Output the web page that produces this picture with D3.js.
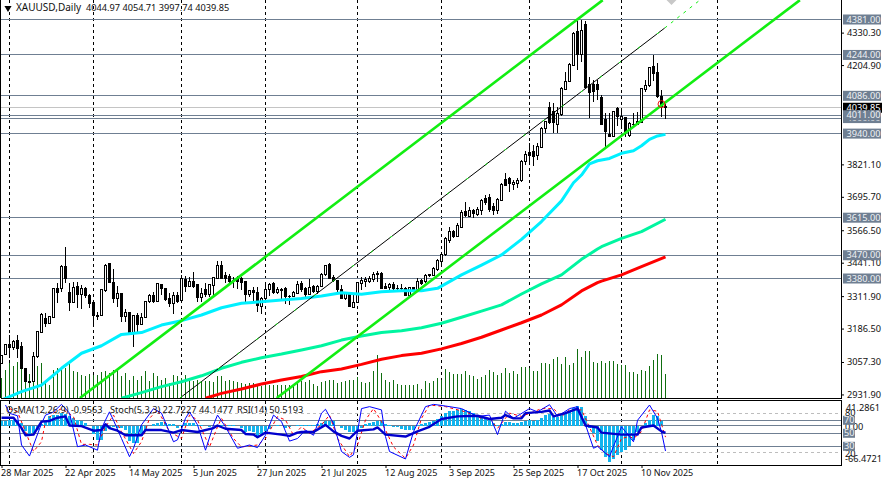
<!DOCTYPE html>
<html>
<head>
<meta charset="utf-8">
<script src="https://cdn.jsdelivr.net/npm/d3@7"></script>
<style>
  html, body { margin: 0; background: #fff; }
  svg { display: block; }
  text { font-family: "Noto Sans", "Liberation Sans", sans-serif; font-size: 9.2px; fill: #111; }
  .tick line { stroke: #000; }
</style>
</head>
<body>
<div id="chart"></div>
<script>
// ohlc per bar (bar 166 is the quoted last bar)
const opens = [
  3052,3088,3123,3114,3140,3117,3033,2981,2981,3078, 3171,3226,3207,3230,3342,3342,3426,3327,3287,3351,
  3320,3342,3316,3289,3236,3236,3333,3439,3365,3302, 3323,3233,3249,3172,3236,3203,3230,3290,3316,3290,
  3355,3342,3302,3284,3316,3294,3377,3351,3370,3355, 3307,3338,3320,3352,3381,3432,3390,3387,3374,3381,
  3381,3368,3319,3332,3325,3271,3301,3338,3361,3325, 3336,3340,3309,3310,3323,3359,3342,3320,3348,3329,
  3348,3394,3436,3384,3372,3338,3303,3325,3269,3287, 3361,3368,3368,3377,3394,3399,3348,3344,3355,3343,
  3342,3342,3315,3346,3339,3374,3368,3391,3393,3413, 3445,3473,3526,3561,3544,3578,3638,3621,3642,3629,
  3642,3690,3694,3660,3642,3683,3763,3765,3745,3748, 3757,3832,3866,3870,3855,3886,3958,4042,4025,3977,
  4012,4111,4141,4205,4334,4244,4360,4128,4128,4128, 4080,3993,3937,3928,4038,3993,4002,3931,3975,3977,
  3984,4112,4124,4199,4176,4085,4044.97
];
const highs = [
  3086,3127,3162,3142,3162,3136,3036,2985,3097,3177, 3245,3245,3235,3345,3361,3432,3503,3361,3368,3368,
  3355,3346,3320,3290,3252,3338,3435,3440,3417,3351, 3325,3262,3252,3239,3245,3245,3294,3319,3329,3364,
  3357,3345,3323,3329,3329,3394,3390,3387,3406,3357, 3342,3361,3359,3387,3449,3449,3406,3397,3384,3390,
  3387,3370,3336,3346,3346,3310,3368,3361,3368,3346, 3345,3346,3316,3333,3372,3372,3348,3377,3355,3355,
  3403,3432,3439,3393,3374,3355,3329,3329,3323,3368, 3387,3387,3390,3404,3409,3404,3364,3364,3368,3355,
  3359,3348,3348,3348,3381,3377,3396,3398,3426,3455, 3477,3539,3578,3567,3593,3645,3677,3658,3647,3658,
  3686,3703,3705,3670,3690,3748,3789,3774,3761,3767, 3838,3874,3902,3896,3902,3964,3990,4061,4057,4044,
  4121,4179,4212,4334,4377,4379,4377,4158,4147,4147, 4089,4018,4018,4027,4042,4031,4006,3986,4018,4025,
  4118,4147,4199,4244,4212,4109,4054.71
];
const lows = [
  3050,3084,3071,3104,3071,3033,2979,2975,2979,3071, 3168,3194,3204,3228,3284,3329,3364,3254,3284,3265,
  3262,3303,3265,3196,3220,3235,3329,3361,3284,3271, 3213,3213,3171,3117,3168,3200,3228,3284,3284,3288,
  3316,3294,3271,3241,3284,3290,3329,3346,3342,3290, 3290,3310,3310,3316,3378,3378,3361,3359,3342,3338,
  3336,3290,3310,3287,3252,3243,3297,3312,3319,3320, 3297,3282,3278,3307,3319,3329,3310,3316,3323,3320,
  3346,3390,3381,3368,3329,3299,3297,3269,3269,3284, 3336,3348,3361,3368,3368,3338,3338,3336,3336,3336,
  3329,3314,3314,3329,3329,3355,3364,3387,3390,3410, 3430,3468,3516,3535,3539,3574,3619,3616,3612,3621,
  3625,3664,3638,3625,3629,3681,3737,3716,3722,3728, 3754,3819,3825,3816,3838,3883,3944,3977,3944,3944,
  4009,4109,4138,4203,4186,4218,4117,3999,4063,4070, 3973,3890,3926,3926,3969,3967,3928,3928,3967,3973,
  3980,4102,4121,4145,4076,4006,3997.74
];
const closes = [
  3084,3123,3114,3136,3110,3033,2981,2977,3080,3174, 3239,3207,3233,3342,3325,3426,3381,3287,3346,3319,
  3342,3314,3284,3236,3235,3336,3432,3364,3302,3323, 3233,3249,3172,3236,3203,3230,3290,3316,3290,3359,
  3340,3297,3284,3316,3293,3381,3351,3370,3348,3306, 3323,3320,3355,3385,3432,3381,3381,3368,3372,3370,
  3365,3319,3332,3325,3274,3303,3339,3357,3325,3336, 3334,3312,3311,3325,3355,3339,3320,3346,3329,3351,
  3397,3430,3381,3372,3336,3303,3323,3271,3287,3364, 3374,3377,3381,3396,3400,3342,3342,3355,3342,3342,
  3341,3315,3346,3336,3370,3359,3393,3394,3419,3448, 3473,3535,3561,3542,3585,3636,3624,3641,3632,3645,
  3681,3674,3645,3642,3686,3745,3741,3748,3752,3758, 3834,3861,3857,3853,3890,3960,3986,3982,3982,4018,
  4115,4143,4208,4328,4246,4337,4119,4100,4102,4111, 3977,3948,3928,4025,4006,4006,3948,3980,3977,3986,
  4115,4125,4195,4173,4085,4044,4039.85
];
const volumes = [
  60,85,105,95,108,90,90,73,100,95, 105,50,40,85,90,85,90,105,80,77,
  70,65,73,70,70,77,80,75,85,83, 65,75,55,65,55,65,80,50,75,65,
  55,60,45,70,65,60,70,55,50,55, 50,50,50,47,65,67,50,55,50,47,
  45,43,45,45,40,35,40,40,38,40, 39,40,38,42,45,50,47,55,43,35,
  47,52,55,53,45,47,50,53,55,63, 48,45,47,82,130,75,55,47,55,43,
  40,40,40,40,42,28,50,45,50,60, 55,88,77,73,73,73,80,70,67,57,
  63,68,83,78,70,75,90,75,80,73, 93,93,90,82,80,105,104,103,118,122,
  102,122,100,105,148,122,140,142,108,105, 112,105,112,112,103,100,98,77,79,73,
  85,82,97,115,133,130,73
];
const osma = [
  7.3,8.4,10.1,10.1,10.1,4.5,-9.5,-15.1,-12.3,-6.7, 2.8,7.3,15.7,17.4,18.5,21.3,19.6,15.7,12.9,10.1,
  7.3,4.5,-1.1,-15.1,-23.6,-23.6,-9.5,-3.9,-2.8,-3.9, -3.9,-6.7,-26.4,-29.2,-29.2,-18,-6.7,-1.1,2.8,4.5,
  6.2,4.5,2.8,2.8,-3.9,1.7,4.5,4.5,4.5,1.7, 1.7,-1.1,-1.7,-1.1,1.7,1.7,1.7,0.1,0.1,-1.1,
  -3.9,-10.7,-9.5,-10.7,-20.8,-15.1,-9.5,-5.6,-1.1,0.2, -1.1,-3.9,-2.2,-1.1,0.6,0.1,0.6,1.7,1.7,3.4,
  4.5,7.3,8.4,7.3,-1.1,-3.9,-6.7,-10.7,-10.7,-6.7, -3.9,2.8,4.5,6.2,8.4,7.3,2.8,0.6,-1.7,-2.8,
  -5.6,-6.7,-6.7,-6.7,0.6,2.8,4.5,6.2,8.4,11.8, 15.7,21.3,24.1,25.2,26.9,28.6,26.9,24.1,21.3,18.5,
  15.7,14,10.1,4.5,0.6,2.8,6.2,6.2,4.5,3.9, 6.2,8.4,10.1,8.4,10.1,12.9,17.4,19.6,14,14,
  17.4,21.3,24.1,29.7,32.5,32,15.7,-3.9,-12.3,-26.4, -40.4,-53.3,-61.7,-57.2,-48.8,-44.3,-40.4,-34.8,-23.6,-10.7,
  -1.1,4.5,10.1,18.5,15.7,7.3,-0.9563
];

// moving averages, read at these bars
const maFastBars = [0,5,10,15,20,25,30,35,40,45,50,55,60,65,70,75,80,85,90,95,100,105,109,112,115,120,125,130,135,140,143,145,147,149,152,155,158,160,162,164,166];
const maFast = [2910,2943,2968,3033,3091,3120,3164,3171,3200,3217,3239,3267,3284,3290,3297,3303,3312,3325,3319,3329,3333,3333,3342,3368,3394,3432,3471,3531,3600,3680,3750,3780,3823,3835,3844,3864,3874,3893,3918,3931,3937];
const maMidBars = [30,35,40,45,50,55,60,65,70,75,80,85,90,95,100,105,110,115,120,125,130,135,140,145,149,150,155,160,166];
const maMid = [2917,2939,2962,2981,3004,3033,3056,3074,3088,3104,3120,3142,3158,3171,3178,3190,3207,3230,3254,3278,3320,3359,3394,3454,3494,3503,3535,3561,3609];
const maSlowBars = [51,55,60,65,70,75,80,85,90,95,100,105,110,115,120,125,130,135,140,145,149,150,155,160,166];
const maSlow = [2917,2936,2953,2972,2988,3001,3020,3030,3048,3068,3082,3091,3108,3129,3153,3181,3209,3239,3278,3332,3364,3370,3394,3426,3464];

// trend channel, [bar, bar] and [price, price]
const upperBars = [19.6,150.3];
const lowerBars = [68.8,199.6];
const middleBars = [44.6,165.8];
const extendBars = [165.8,174.6];
const upperPrices = [2918,4456];
const lowerPrices = [2918,4456];
const middlePrices = [2918,4348];
const extendPrices = [4348,4456];

// rsi and stochastic
const rsiBars = [0,3,5,6,8,9,10,12,14,16,17,20,23,25,26,27,29,31,35,36,40,43,45,49,53,54,56,60,61,63,64,66,70,72,74,75,78,81,83,85,87,89,93,94,96,101,104,107,110,114,119,122,125,126,128,130,131,135,137,138,141,144,146,149,150,155,159,160,163,165,166];
const rsiVals = [74,74,58,47,48,58,68,69,74,76,62,61,54,55,64,58,54,47,47,55,55,51,55,52,58,62,57,55,49,48,44,51,48,46,51,52,52,63,53,46,42,54,56,59,48,45,53,60,72,76,77,72,74,78,73,73,81,83,85,76,81,88,62,59,51,48,48,59,62,53,50.5193];
const stochBars = [1,2,4,5,7,8,10,11,13,15,17,19,21,24,25,27,28,30,32,33,35,38,40,43,44,46,47,49,51,53,54,56,59,62,64,66,68,70,72,74,76,78,80,81,83,85,87,88,90,92,95,96,97,101,103,106,108,111,115,119,122,123,124,126,128,132,134,137,139,142,144,146,148,149,152,153,155,158,159,162,164,165,166];
const stochVals = [93.5,80.7,77,32,15,32,65,78,83,94.5,81,29.4,32,24,57.6,83,70,42,14,27,63,88,81,37,40,73,83,63,24,63,78,60,27,32,28,47,78,68,38,42,55,47,81,87,65,22,13,17,88,91,86,45,22,10.5,52.5,91,94.5,92,88,76,78,63,48,84,73,88,83,94,76,88,91,63,27,30,14,30,60,37,70,93.5,73,52,22.7227];
const signalBars = [2,4,6,8,10,11,13,15,18,20,22,24,26,28,30,33,35,37,39,42,45,47,49,52,54,55,58,60,64,66,69,71,73,75,77,80,82,84,87,89,91,93,95,98,101,103,105,107,111,116,120,122,124,127,130,133,135,138,140,142,145,146,149,151,153,155,157,158,160,162,164,166];
const signalVals = [88,83,52.5,22,37,68,81,88,75.6,33,33,32,60,78,52.5,19,37,73,86,52.5,42,78,70.5,29,60,73,42,29,32,42,75.6,70.5,47,60,50,63,78,42,14,32,70.5,88,68,29,11.5,32,73,93.5,91,83,73,73,57.6,81,76,83,88,88,75.6,86,86,73,32,19,14,42,45,42,52.5,86,84,44.1477];

const priceLevels = [4381,4244,4086,4000,4011,3940,3615,3470,3380];
const priceTicks = [4330.3,4204.9,3821.1,3695.7,3566.5,3441.1,3311.9,3186.5,3057.3,2931.9];
const dateBars = [0,16,32,48,64,80,96,112,128,144,160];
const dateLabels = ["28 Mar 2025","22 Apr 2025","14 May 2025","5 Jun 2025","27 Jun 2025","21 Jul 2025","12 Aug 2025","3 Sep 2025","25 Sep 2025","17 Oct 2025","10 Nov 2025"];
const monthBars = [2,23,45,66,89,110,132,155,179];
const subLevels = [70,50,30];
const subDashed = [80,20];
const lastBar = 166;

const W = 884, H = 484, right = 841;
const x = d3.scaleLinear().domain([0, lastBar]).range([1.5, 665.5]);
const y = d3.scaleLinear().domain([3380, 4381]).range([278.5, 19.5]);
const yVol = d3.scaleLinear().domain([0, 300]).range([398, 298]);
const yOsc = d3.scaleLinear().domain([0, 100]).range([465.8, 400.8]);
const yOsma = d3.scaleLinear().domain([-66.4721, 41.2861]).range([465, 401]);

const svg = d3.select("#chart").append("svg").attr("width", W).attr("height", H);
const defs = svg.append("defs");
defs.append("clipPath").attr("id", "main").append("rect").attr("x", 1).attr("y", 0).attr("width", right - 1).attr("height", 398);
defs.append("clipPath").attr("id", "sub").append("rect").attr("x", 1).attr("y", 401).attr("width", right - 1).attr("height", 64);

const main = svg.append("g").attr("clip-path", "url(#main)");
const sub = svg.append("g").attr("clip-path", "url(#sub)");
const slate = "#6f7f92";

// month separators run through both panes
[[main, 0, 398], [sub, 401, 465]].forEach(([g, y0, y1]) => {
  g.selectAll(null).data(monthBars).join("line")
    .attr("x1", d => x(d)).attr("x2", d => x(d)).attr("y1", y0).attr("y2", y1)
    .attr("stroke", "#000").attr("stroke-dasharray", "3,3").attr("shape-rendering", "crispEdges");
});

// levels and bid line
main.selectAll(null).data(priceLevels).join("line")
  .attr("x1", 1).attr("x2", right).attr("y1", d => y(d)).attr("y2", d => y(d))
  .attr("stroke", slate).attr("shape-rendering", "crispEdges");
main.append("line").attr("x1", 1).attr("x2", right).attr("y1", y(closes[lastBar])).attr("y2", y(closes[lastBar]))
  .attr("stroke", "#c4c4c4").attr("shape-rendering", "crispEdges");

// volume
main.selectAll(null).data(volumes).join("rect")
  .attr("x", (d, i) => x(i) - 0.5).attr("width", 1)
  .attr("y", d => yVol(d)).attr("height", d => 398 - yVol(d))
  .attr("fill", "#0f6e0f").attr("shape-rendering", "crispEdges");

// candles
const bars = d3.range(opens.length);
main.selectAll(null).data(bars).join("line")
  .attr("x1", i => x(i)).attr("x2", i => x(i)).attr("y1", i => y(highs[i])).attr("y2", i => y(lows[i]))
  .attr("stroke", "#000").attr("shape-rendering", "crispEdges");
main.selectAll(null).data(bars).join("rect")
  .attr("x", i => x(i) - 1).attr("width", 2)
  .attr("y", i => y(Math.max(opens[i], closes[i])))
  .attr("height", i => Math.max(Math.abs(y(opens[i]) - y(closes[i])), 0.5))
  .attr("fill", i => closes[i] >= opens[i] ? "#fff" : "#000")
  .attr("stroke", "#000").attr("shape-rendering", "crispEdges");

function drawLine(g, xs, ys, scale, color, width, dash) {
  const line = d3.line().x(d => x(d[0])).y(d => scale(d[1]));
  return g.append("path").attr("d", line(d3.zip(xs, ys)))
    .attr("fill", "none").attr("stroke", color).attr("stroke-width", width)
    .attr("stroke-dasharray", dash || null).attr("stroke-linejoin", "round");
}

drawLine(main, maSlowBars, maSlow, y, "#ff0000", 3);
drawLine(main, maMidBars, maMid, y, "#00f5a0", 3);
drawLine(main, maFastBars, maFast, y, "#00f0ff", 3);

drawLine(main, upperBars, upperPrices, y, "#12ee12", 2.6);
drawLine(main, lowerBars, lowerPrices, y, "#12ee12", 2.6);
drawLine(main, middleBars, middlePrices, y, "#000", 1);
drawLine(main, middleBars, middlePrices, y, "#12ee12", 1, "3,21");
drawLine(main, extendBars, extendPrices, y, "#12ee12", 1, "3,5");

// red marker and the grey arrow clipped by the top edge
main.append("circle").attr("cx", x(165)).attr("cy", y(4054)).attr("r", 3.5)
  .attr("fill", "none").attr("stroke", "#f01010");
main.append("path").attr("d", d3.symbol(d3.symbolSquare, 50)())
  .attr("transform", `translate(${x(167.5)},0) rotate(45)`).attr("fill", "#c8c8c8");

// indicator pane
subLevels.forEach(v => sub.append("line").attr("x1", 1).attr("x2", right).attr("y1", yOsc(v)).attr("y2", yOsc(v))
  .attr("stroke", slate).attr("shape-rendering", "crispEdges"));
sub.append("line").attr("x1", 1).attr("x2", right).attr("y1", yOsma(0)).attr("y2", yOsma(0))
  .attr("stroke", slate).attr("shape-rendering", "crispEdges");
subDashed.forEach(v => sub.append("line").attr("x1", 1).attr("x2", right).attr("y1", yOsc(v)).attr("y2", yOsc(v))
  .attr("stroke", "#bdbdbd").attr("stroke-dasharray", "3,3").attr("shape-rendering", "crispEdges"));
sub.selectAll(null).data(osma).join("rect")
  .attr("x", (d, i) => x(i) - 1.5).attr("width", 3)
  .attr("y", d => Math.min(yOsma(d), yOsma(0))).attr("height", d => Math.abs(yOsma(d) - yOsma(0)))
  .attr("fill", "#12b4ee").attr("shape-rendering", "crispEdges");
drawLine(sub, signalBars, signalVals, yOsc, "#ff0000", 1, "3,3");
drawLine(sub, stochBars, stochVals, yOsc, "#0000ff", 1);
drawLine(sub, rsiBars, rsiVals, yOsc, "#0000cd", 2.4);

// pane frames
svg.append("g").attr("shape-rendering", "crispEdges").selectAll("line")
  .data([[0.5,0,0.5,398],[1,398.5,right,398.5],[right+0.5,0,right+0.5,399],[0.5,400,0.5,466],[1,400.5,right+1,400.5],[1,465.5,right+1,465.5],[right+0.5,400,right+0.5,466]])
  .join("line").attr("x1", d => d[0]).attr("y1", d => d[1]).attr("x2", d => d[2]).attr("y2", d => d[3]).attr("stroke", "#000");

// axes
const priceAxis = d3.axisRight(y).tickValues(priceTicks).tickFormat(d3.format(".2f")).tickSize(3).tickPadding(3);
svg.append("g").attr("transform", `translate(${right},0)`).call(priceAxis).call(g => g.select(".domain").remove())
  .call(g => g.selectAll("text").style("font-family", "\"Noto Sans\", sans-serif").style("font-size", "9.2px"));
const dateAxis = d3.axisBottom(x).tickValues(dateBars).tickFormat((d, i) => dateLabels[i]).tickSize(3).tickPadding(2);
svg.append("g").attr("transform", "translate(0,465)").call(dateAxis)
  .call(g => g.select(".domain").remove())
  .call(g => g.selectAll("text").attr("text-anchor", "start").attr("dx", -1)
    .style("font-family", "\"Noto Sans\", sans-serif").style("font-size", "9px"));

// price tags
function tag(yPos, label, color, width, textColor) {
  const g = svg.append("g");
  g.append("rect").attr("x", 843).attr("y", yPos - 5).attr("width", width).attr("height", 10).attr("fill", color);
  g.append("text").attr("x", 846.5).attr("y", yPos).attr("dy", "0.34em").style("fill", textColor).text(label);
}
tag(y(closes[lastBar]), d3.format(".2f")(closes[lastBar]), "#000", 39, "#fff");
priceLevels.forEach(v => tag(y(v), d3.format(".2f")(v), slate, 38, "#eef1f4"));

// oscillator scale labels
const subText = (yPos, label, xPos) => svg.append("text").attr("x", xPos).attr("y", yPos).attr("dy", "0.34em").text(label);
subText(yOsma(41.2861) + 6.5, "41.2861", 846);
subText(yOsc(80) - 1, "80", 845);
subText(yOsc(20) + 1, "20", 845);
subText(yOsma(0) + 1, "0.00", 845);
subText(yOsma(-66.4721) - 6, "-66.4721", 845);
subLevels.forEach(v => {
  svg.append("rect").attr("x", 843).attr("y", yOsc(v) - 4.5).attr("width", 12).attr("height", 9).attr("fill", slate);
  svg.append("text").attr("x", 844).attr("y", yOsc(v)).attr("dy", "0.34em").style("fill", "#eef1f4").text(v);
});

// titles
svg.append("path").attr("d", d3.symbol(d3.symbolTriangle, 22)()).attr("transform", "translate(8,8) rotate(180)").attr("fill", "#000");
svg.append("text").attr("x", 16).attr("y", 8).attr("dy", "0.34em").style("font-size", "10px").text("XAUUSD,Daily");
svg.append("text").attr("x", 86).attr("y", 8).attr("dy", "0.34em").text("4044.97 4054.71 3997.74 4039.85");
svg.append("text").attr("x", 6).attr("y", 410).attr("dy", "0.34em").text("OsMA(12,26,9) -0.9563");
svg.append("text").attr("x", 110).attr("y", 410).attr("dy", "0.34em").text("Stoch(5,3,3) 22.7227 44.1477");
svg.append("text").attr("x", 237).attr("y", 410).attr("dy", "0.34em").text("RSI(14) 50.5193");
</script>
</body>
</html>
